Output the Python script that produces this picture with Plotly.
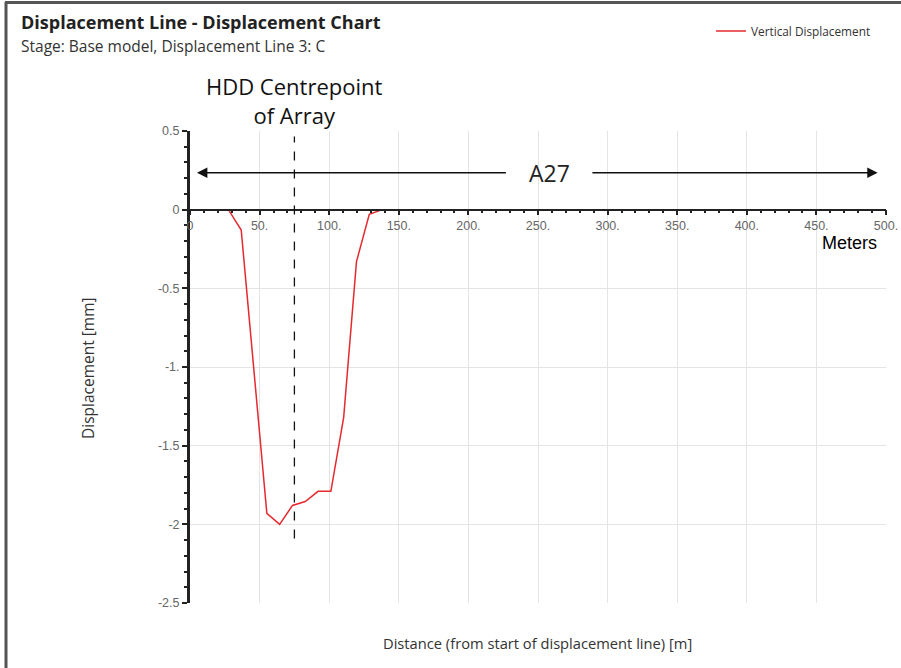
import plotly.graph_objects as go

# ---- data ----
distance_m = [0.0, 9.2, 18.4, 27.6, 36.8, 46.0, 55.2, 64.4, 73.6, 82.8,
              92.0, 101.2, 110.4, 119.6, 128.8, 138.0, 147.2, 156.4, 165.6, 174.8,
              184.0, 193.2, 202.4, 211.6, 220.8, 230.0, 239.2, 248.4, 257.6, 266.8,
              276.0, 285.2, 294.4, 303.6, 312.8, 322.0, 331.2, 340.4, 349.6, 358.8,
              368.0, 377.2, 386.4, 395.6, 404.8, 414.0, 423.2, 432.4, 441.6, 450.8,
              460.0]
vertical_disp_mm = [0.0, 0.0, 0.0, 0.0, -0.13, -1.02, -1.93, -2.0, -1.88, -1.855,
                    -1.79, -1.79, -1.32, -0.33, -0.03, 0.0, 0.0, 0.0, 0.0, 0.0,
                    0.0, 0.0, 0.0, 0.0, 0.0, 0.0, 0.0, 0.0, 0.0, 0.0,
                    0.0, 0.0, 0.0, 0.0, 0.0, 0.0, 0.0, 0.0, 0.0, 0.0,
                    0.0, 0.0, 0.0, 0.0, 0.0, 0.0, 0.0, 0.0, 0.0, 0.0,
                    0.0]
x_tick_vals = [0, 50, 100, 150, 200, 250, 300, 350, 400, 450, 500]
x_tick_text = ["0", "50.", "100.", "150.", "200.", "250.", "300.", "350.", "400.", "450.", "500."]
y_tick_vals = [0.5, 0, -0.5, -1, -1.5, -2, -2.5]
y_tick_text = ["0.5", "0", "-0.5", "-1.", "-1.5", "-2", "-2.5"]
hdd_centre_m = 75
dashed_top, dashed_bottom = 0.465, -2.09
a27_y = 0.235
a27_left_head, a27_left_tail = 5, 228
a27_right_tail, a27_right_head = 288, 494
a27_label_x = 258
meters_x, meters_y = 474, -0.21

# plot area in pixels
L, R, T, B = 190, 886, 131, 603
W, H = 901, 668
def px(xp):
    return (xp - L) / (R - L)
def py(yp):
    return (B - yp) / (B - T)

fig = go.Figure()
fig.add_trace(go.Scatter(
    x=distance_m, y=vertical_disp_mm, mode="lines",
    name="Vertical Displacement",
    line=dict(color="#e52a2f", width=1.5),
))

tick_font = dict(family="Liberation Sans, Arial", size=12.5, color="#666")

fig.update_layout(
    width=W, height=H, autosize=False,
    margin=dict(l=L, r=W - R, t=T, b=H - B, autoexpand=False),
    paper_bgcolor="white", plot_bgcolor="white",
    showlegend=True,
    legend=dict(x=px(711), y=py(31), xanchor="left", yanchor="middle",
                font=dict(family="Open Sans", size=11.8, color="#333"),
                bgcolor="rgba(0,0,0,0)"),
    xaxis=dict(range=[0, 500], anchor="free", position=2.5 / 3, automargin=False,
               tickvals=x_tick_vals, ticktext=x_tick_text, tickfont=tick_font,
               showline=True, linecolor="#222", linewidth=1.5,
               ticks="outside", ticklen=5, tickcolor="#222", tickwidth=1.5,
               minor=dict(dtick=10, ticks="outside", ticklen=3, tickcolor="#222", showgrid=False),
               showgrid=True, gridcolor="#e4e4e4", gridwidth=1, zeroline=False),
    yaxis=dict(range=[-2.5, 0.5], tickvals=y_tick_vals, ticktext=y_tick_text,
               tickfont=tick_font, automargin=False,
               showline=True, linecolor="#222", linewidth=3,
               ticks="outside", ticklen=5, tickcolor="#222", tickwidth=1.5,
               minor=dict(dtick=0.1, ticks="outside", ticklen=3, tickcolor="#222", showgrid=False),
               showgrid=True, gridcolor="#e4e4e4", gridwidth=1, zeroline=False),
)

# dashed centre line
fig.add_shape(type="line", xref="x", yref="y", x0=hdd_centre_m, x1=hdd_centre_m,
              y0=dashed_bottom, y1=dashed_top,
              line=dict(color="#111", width=1.3, dash="dash"))

# border of the figure (top + left)
fig.add_shape(type="line", xref="paper", yref="paper", x0=px(5), x1=px(901), y0=py(2.5), y1=py(2.5),
              line=dict(color="#555", width=3))
fig.add_shape(type="line", xref="paper", yref="paper", x0=px(6), x1=px(6), y0=py(2), y1=py(668),
              line=dict(color="#555", width=3))

# arrows for A27
for head, tail in [(a27_left_head, a27_left_tail), (a27_right_head, a27_right_tail)]:
    fig.add_annotation(x=head, y=a27_y, ax=tail, ay=a27_y, axref="x", ayref="y",
                       xref="x", yref="y", text="", showarrow=True,
                       arrowhead=2, arrowsize=1.3, arrowwidth=1.6, arrowcolor="#111")
fig.add_annotation(x=a27_label_x, y=a27_y, xref="x", yref="y", text="A27", showarrow=False,
                   xanchor="center", yanchor="middle",
                   font=dict(family="Open Sans", size=23, color="#222"))

# HDD label
fig.add_annotation(x=hdd_centre_m, y=py(100), xref="x", yref="paper",
                   text="HDD Centrepoint<br>of Array", showarrow=False,
                   font=dict(family="Open Sans", size=22, color="#111"),
                   align="center", xanchor="center", yanchor="middle")

# Meters
fig.add_annotation(x=meters_x, y=meters_y, xref="x", yref="y", text="Meters",
                   xanchor="center", yanchor="middle",
                   showarrow=False, font=dict(family="Liberation Sans, Arial", size=18, color="#000"))

# Titles
fig.add_annotation(x=px(19), y=py(22), xref="paper", yref="paper", xanchor="left", yanchor="middle",
                   text="<b>Displacement Line - Displacement Chart</b>", showarrow=False,
                   font=dict(family="Open Sans", size=18, color="#222"))
fig.add_annotation(x=px(19), y=py(46), xref="paper", yref="paper", xanchor="left", yanchor="middle",
                   text="Stage: Base model, Displacement Line 3: C", showarrow=False,
                   font=dict(family="Open Sans", size=15.5, color="#333"))

# axis titles
fig.add_annotation(x=px(88), y=py(368), xref="paper", yref="paper", textangle=-90,
                   xanchor="center", yanchor="middle",
                   text="Displacement [mm]", showarrow=False,
                   font=dict(family="Open Sans", size=15.5, color="#333"))
fig.add_annotation(x=px(537), y=py(643), xref="paper", yref="paper",
                   xanchor="center", yanchor="middle",
                   text="Distance (from start of displacement line) [m]", showarrow=False,
                   font=dict(family="Open Sans", size=14.7, color="#333"))

fig.write_html("out.html", config={"responsive": False, "displayModeBar": False},
               post_script="document.body.style.margin='0';document.body.style.overflow='hidden';")
